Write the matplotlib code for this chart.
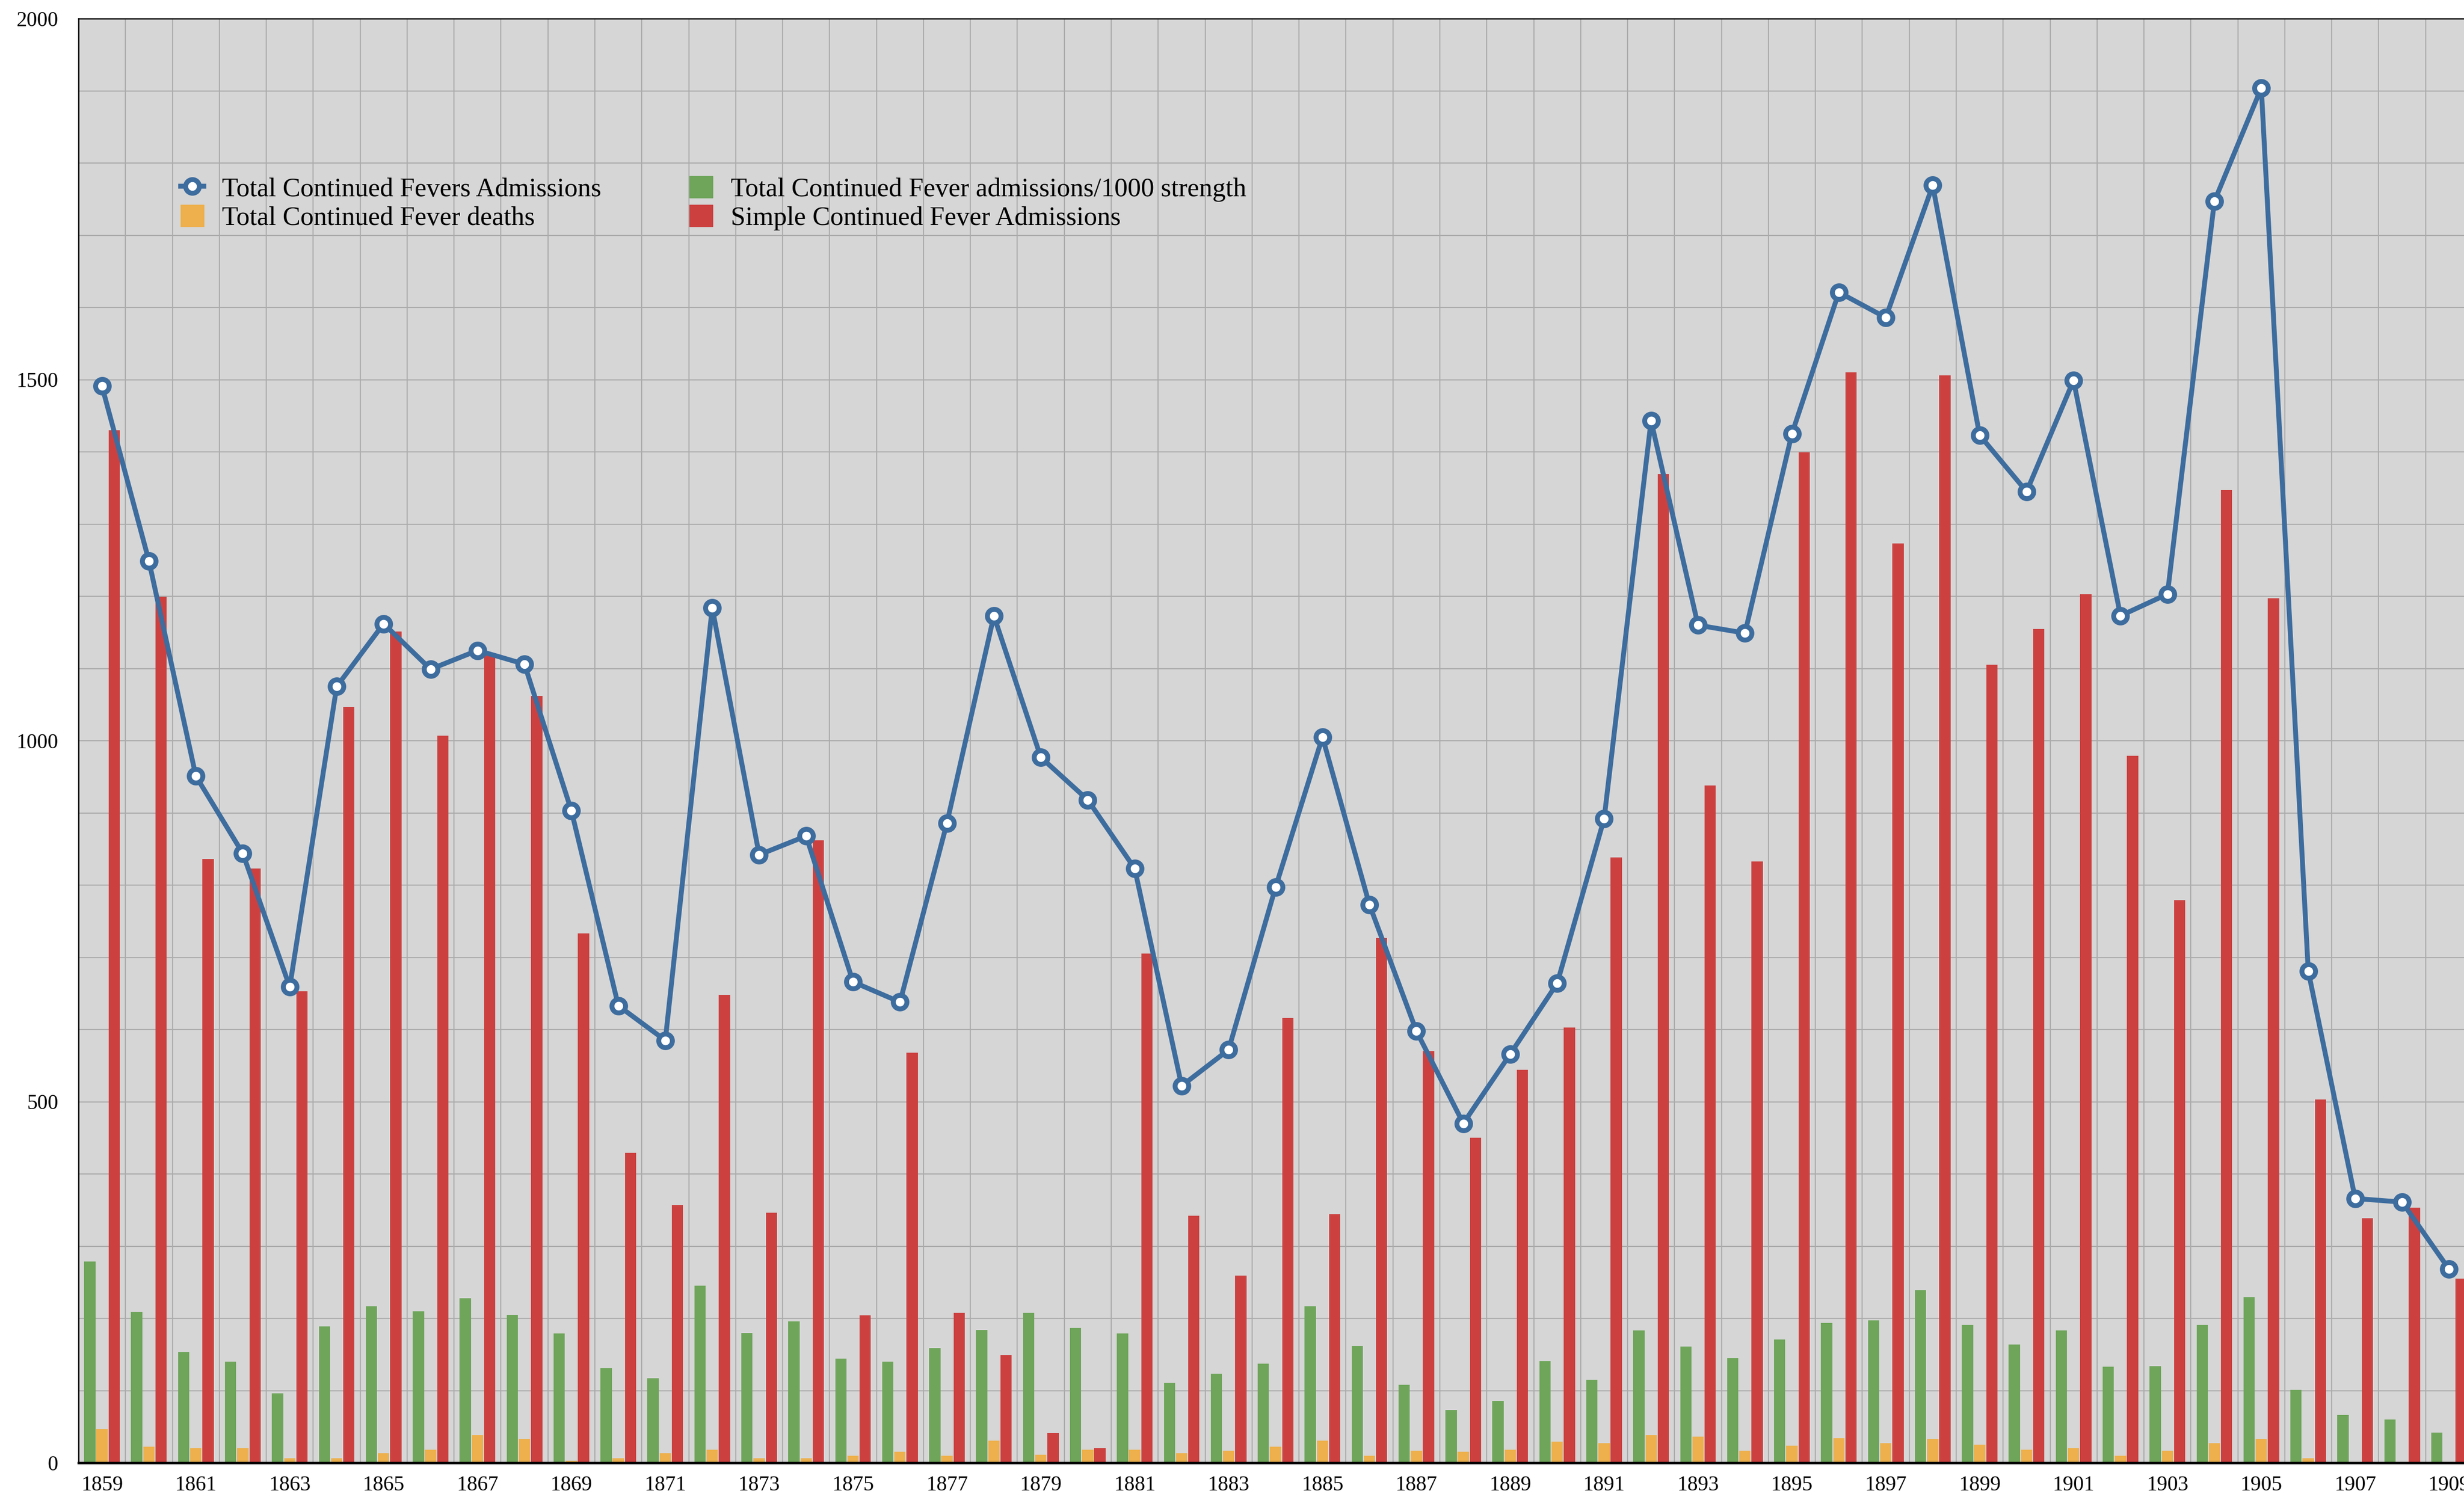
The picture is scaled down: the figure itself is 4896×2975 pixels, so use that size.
import matplotlib.pyplot as plt
from matplotlib.patches import Patch
from matplotlib.lines import Line2D
from matplotlib.ticker import MultipleLocator

anios = list(range(1859, 1910))

# Total Continued Fevers Admissions (linea)
admisiones_total = [1491, 1249, 951, 844, 659, 1075, 1162, 1099, 1125, 1106,
                    903, 633, 585, 1184, 842, 868, 666, 638, 886, 1173,
                    977, 918, 823, 522, 572, 797, 1005, 773, 598, 470,
                    566, 664, 892, 1443, 1160, 1149, 1425, 1621, 1586, 1769,
                    1423, 1345, 1499, 1173, 1203, 1747, 1904, 681, 366, 361,
                    268]

# Total Continued Fever admissions/1000 strength (verde)
admisiones_por_mil = [279, 209, 153, 140, 96, 189, 217, 210, 228, 205,
                      179, 131, 117, 245, 180, 196, 144, 140, 159, 184,
                      208, 187, 179, 111, 123, 137, 217, 162, 108, 73,
                      86, 141, 115, 183, 161, 145, 171, 194, 197, 239,
                      191, 164, 183, 133, 134, 191, 229, 101, 66, 60,
                      42]

# Total Continued Fever deaths (naranja)
muertes = [47, 22, 20, 20, 6, 6, 13, 18, 38, 33,
           3, 6, 13, 18, 6, 6, 10, 15, 10, 31,
           11, 18, 18, 13, 17, 22, 31, 10, 17, 15,
           18, 29, 27, 38, 36, 17, 24, 34, 27, 33,
           25, 18, 20, 10, 17, 27, 33, 6, 1.5, 1.5,
           1.5]

# Simple Continued Fever Admissions (rojo)
admisiones_simple = [1430, 1199, 836, 823, 653, 1047, 1151, 1007, 1121, 1062,
                     733, 429, 357, 648, 346, 862, 204, 568, 208, 149,
                     41, 20, 705, 342, 259, 616, 344, 727, 570, 450,
                     544, 603, 838, 1369, 938, 833, 1399, 1510, 1273, 1506,
                     1105, 1155, 1203, 979, 779, 1347, 1197, 503, 339, 353,
                     255]

AZUL = "#3d6c9e"
VERDE = "#6ea55a"
NARANJA = "#edb04c"
ROJO = "#cc4140"
FONDO = "#d6d6d6"
REJILLA = "#ababab"
FUENTE = ["Liberation Serif", "DejaVu Serif"]

plt.rcParams["font.family"] = FUENTE

fig = plt.figure(figsize=(48.96, 29.75), dpi=100)
ax = fig.add_axes([156 / 4896, 68 / 2975, 4757 / 4896, 2870 / 2975])
ax.set_facecolor(FONDO)

x = list(range(len(anios)))
ancho = 0.24
paso = 0.26

ax.bar([i - paso for i in x], admisiones_por_mil, ancho, color=VERDE, zorder=2)
ax.bar(x, muertes, ancho, color=NARANJA, zorder=2)
ax.bar([i + paso for i in x], admisiones_simple, ancho, color=ROJO, zorder=2)
ax.plot(x, admisiones_total, color=AZUL, linewidth=7, marker="o",
        markersize=19.5, markerfacecolor="white", markeredgecolor=AZUL,
        markeredgewidth=7, zorder=4, clip_on=False)

# Ejes y rejilla
ax.set_xlim(-0.5, len(anios) - 0.5)
ax.set_ylim(0, 2000)
ax.yaxis.set_major_locator(MultipleLocator(500))
ax.yaxis.set_minor_locator(MultipleLocator(100))
ax.set_xticks(x[::2])
ax.set_xticklabels([str(a) for a in anios[::2]])
ax.set_xticks([i + 0.5 for i in x], minor=True)
ax.grid(which="minor", axis="both", color=REJILLA, linewidth=1.6, zorder=0)
ax.grid(which="major", axis="y", color=REJILLA, linewidth=1.6, zorder=0)
ax.set_axisbelow(True)

ax.tick_params(axis="both", which="both", length=0, labelsize=30, colors="black")
ax.tick_params(axis="y", pad=29)
ax.tick_params(axis="x", pad=18)

for lado in ["left", "top"]:
    ax.spines[lado].set_linewidth(1.8)
    ax.spines[lado].set_color("black")
ax.spines["bottom"].set_linewidth(3.5)
ax.spines["bottom"].set_color("black")
ax.spines["right"].set_visible(False)

# Leyenda en dos columnas (dos leyendas para fijar la posicion de cada una)
h_linea = Line2D([], [], color=AZUL, linewidth=7, marker="o", markersize=19.5,
                 markerfacecolor="white", markeredgecolor=AZUL, markeredgewidth=7)
h_muertes = Patch(color=NARANJA)
h_por_mil = Patch(color=VERDE)
h_simple = Patch(color=ROJO)

opciones = dict(loc="upper left", frameon=False, fontsize=38, borderpad=0,
                borderaxespad=0, handlelength=0.87, handleheight=0.87,
                handletextpad=0.68, labelspacing=0.12,
                bbox_transform=fig.transFigure)

ley1 = ax.legend([h_linea, h_muertes],
                 ["Total Continued Fevers Admissions", "Total Continued Fever deaths"],
                 bbox_to_anchor=(359 / 4896, 1 - 350 / 2975), **opciones)
ax.add_artist(ley1)
ax.legend([h_por_mil, h_simple],
          ["Total Continued Fever admissions/1000 strength", "Simple Continued Fever Admissions"],
          bbox_to_anchor=(1370 / 4896, 1 - 350 / 2975), **opciones)

fig.savefig("out.png", dpi=100, facecolor="white")
